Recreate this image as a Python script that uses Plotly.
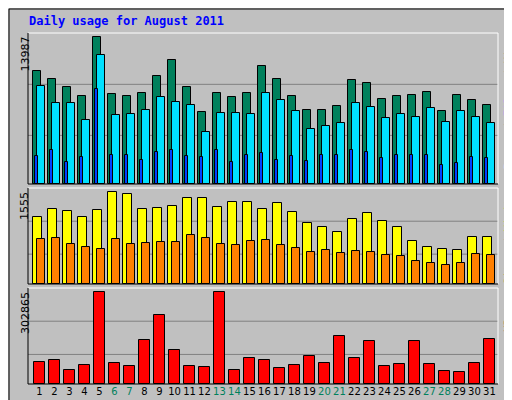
import plotly.graph_objects as go

days = list(range(1, 32))
weekend_days = [6, 7, 13, 14, 20, 21, 27, 28]
hits = [10745,9982,9219,8361,13987,8551,8361,8647,10268,11794,9219,6835,8647,8265,8647,11222,9982,8361,7026,7026,7407,9887,9601,8075,8361,8456,8742,6930,8456,7979,7502]
files = [9314,7693,7693,6072,12271,6549,6644,7026,8265,7789,7502,4927,6739,6739,6644,8647,7979,6930,5214,5500,5786,7693,7312,6263,6644,6358,7216,5881,6930,6358,5786]
pages = [2639,3211,2066,2543,9028,2734,2734,2257,3020,3211,2639,2543,3211,2066,2734,2925,2257,2639,2162,2734,2734,3211,3020,2448,2734,2734,2734,1780,1971,2543,2448]
visits = [1132,1268,1234,1132,1251,1555,1521,1268,1285,1318,1454,1454,1301,1386,1386,1268,1369,1217,1031,963,879,1099,1200,1065,963,727,625,592,575,794,794]
sites = [761,777,676,625,592,761,676,693,710,710,828,777,676,659,727,744,659,608,541,575,524,558,541,490,473,389,355,321,355,507,490]
kbytes = [74055,80687,47528,64107,302865,70739,60792,143689,226587,110530,60792,57476,302865,47528,84003,80687,54160,64107,90635,70739,156953,84003,140373,60792,67423,140373,67423,44212,40896,70739,147005]

C_HITS, C_FILES, C_PAGES = "#00805C", "#0040FF", "#00E0FF"
C_VISITS, C_SITES, C_KB = "#FFFF00", "#FF8000", "#FF0000"
BG = "#C0C0C0"
MONO = "DejaVu Sans Mono"

fig = go.Figure()
def bars(vals, off, w, color, xa, ya):
    fig.add_trace(go.Bar(x=[d + off for d in days], y=vals, width=w, marker=dict(color=color, line=dict(color="black", width=1)),
                         xaxis=xa, yaxis=ya, showlegend=False, hoverinfo="y"))

bars(hits, -0.167, 0.49, C_HITS, "x", "y")
bars(files, 0.1, 0.49, C_PAGES, "x", "y")
bars(pages, -0.22, 0.2, C_FILES, "x", "y")
bars(visits, -0.133, 0.56, C_VISITS, "x2", "y2")
bars(sites, 0.1, 0.49, C_SITES, "x2", "y2")
bars(kbytes, 0, 0.69, C_KB, "x3", "y3")

xr = [0.233, 31.57]
xd = [20/512, 490/512]
doms = {"y": [1-176/400, 1-25/400], "y2": [1-276/400, 1-180/400], "y3": [1-376/400, 1-280/400]}
ranges = {"y": max(hits)*453/440, "y2": max(visits)*289/276, "y3": max(kbytes)*286/274}
grid = {"y": [0.322, 0.66], "y2": [0.311, 0.654], "y3": [0.308, 0.654]}

tick_text = [f'<span style="color:{C_HITS if d in weekend_days else "black"}">{d}</span>' for d in days]
layout = dict(width=512, height=400, margin=dict(l=0, r=0, t=0, b=0), paper_bgcolor=BG, plot_bgcolor=BG,
              barmode="overlay", bargap=0, font=dict(family="DejaVu Sans", size=11, color="black"))
for i, key in enumerate(["", "2", "3"]):
    layout["xaxis" + key] = dict(domain=xd, range=xr, anchor="y" + key, showgrid=False, zeroline=False,
                                 showticklabels=(key == "3"), tickvals=days, ticktext=tick_text, ticks="",
                                 tickangle=0, tickfont=dict(family="DejaVu Sans", size=10), fixedrange=True)
    layout["yaxis" + key] = dict(domain=doms["y" + key], range=[0, ranges["y" + key]], anchor="x" + key,
                                 showgrid=False, zeroline=False, showticklabels=False, fixedrange=True)
fig.update_layout(**layout)

shapes = []
for key in ["y", "y2", "y3"]:
    d0, d1 = doms[key]
    for g in grid[key]:
        yy = d0 + g*(d1-d0)
        shapes.append(dict(type="line", xref="paper", yref="paper", x0=xd[0], x1=xd[1], y0=yy, y1=yy, line=dict(color="#808080", width=1), layer="below"))
    shapes.append(dict(type="line", xref="paper", yref="paper", x0=xd[0], x1=xd[1], y0=d1, y1=d1, line=dict(color="white", width=1)))
    shapes.append(dict(type="line", xref="paper", yref="paper", x0=xd[1], x1=xd[1], y0=d0, y1=d1, line=dict(color="white", width=1)))
    shapes.append(dict(type="line", xref="paper", yref="paper", x0=xd[0], x1=xd[0], y0=d0, y1=d1, line=dict(color="black", width=1)))
    shapes.append(dict(type="line", xref="paper", yref="paper", x0=xd[0], x1=xd[1], y0=d0, y1=d0, line=dict(color="black", width=1)))
shapes.append(dict(type="rect", xref="paper", yref="paper", x0=0.002, x1=0.998, y0=0.0025, y1=0.9975, line=dict(color="black", width=1)))
shapes.append(dict(type="line", xref="paper", yref="paper", x0=0.006, x1=0.994, y0=0.008, y1=0.008, line=dict(color="#808080", width=3)))
shapes.append(dict(type="line", xref="paper", yref="paper", x0=0.994, x1=0.994, y0=0.008, y1=0.992, line=dict(color="#808080", width=3)))
fig.update_layout(shapes=shapes)

ann = [dict(text="<b>Daily usage for August 2011</b>", x=19/512, y=1-4/400, xref="paper", yref="paper", xanchor="left", yanchor="top",
            showarrow=False, font=dict(family=MONO, size=12, color="#0000FF"))]
for key, val in [("y", max(hits)), ("y2", max(visits)), ("y3", max(kbytes))]:
    ann.append(dict(text=str(val), x=17/512, y=doms[key][1]-0.005, xref="paper", yref="paper", xanchor="center", yanchor="top",
                    textangle=-90, showarrow=False, font=dict(family="DejaVu Sans", size=11, color="black")))
legends = [("y", [("Pages", C_PAGES), (" / ", "#808080"), ("Files", C_FILES), (" / ", "#808080"), ("Hits", C_HITS)]),
           ("y2", [("Sites", C_SITES), (" / ", "#808080"), ("Visits", C_VISITS)]),
           ("y3", [("KBytes", C_KB)])]
for key, parts in legends:
    txt = "".join(f'<span style="color:{c}">{t}</span>' for t, c in parts)
    ann.append(dict(text=txt, x=500/512, y=doms[key][1]-0.005, xref="paper", yref="paper", xanchor="center", yanchor="top",
                    textangle=-90, showarrow=False, font=dict(family=MONO, size=11, color=parts[-1][1])))
fig.update_layout(annotations=ann)
fig.write_html("out.html")
